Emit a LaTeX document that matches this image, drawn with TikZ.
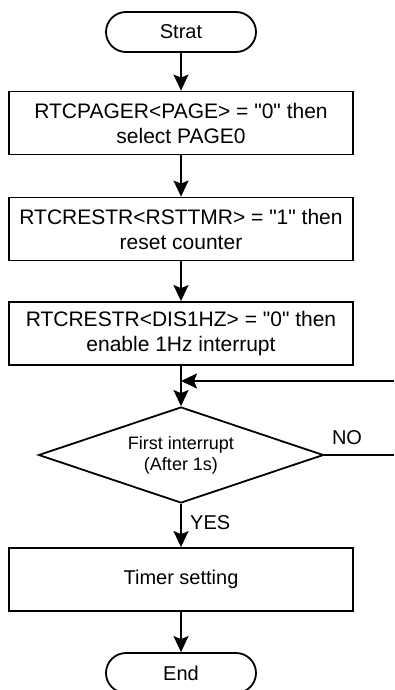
\documentclass[tikz,border=0pt]{standalone}
\usepackage{fontspec}
\setmainfont{Liberation Sans}
\newfontfamily\lsans{Liberation Sans}
\usetikzlibrary{shapes.geometric,arrows.meta}
\begin{document}
\begin{tikzpicture}[x=1pt,y=1pt,
  every node/.style={font=\lsans\fontsize{20}{24}\selectfont},
  term/.style={draw,line width=1.8pt,rounded corners=20pt,minimum width=150pt,minimum height=40pt,inner sep=0pt},
  procbox/.style={draw,line width=1.8pt,minimum width=344pt,minimum height=63pt,inner sep=0pt,align=center,font=\lsans\fontsize{21}{25}\selectfont},
  decis/.style={draw,line width=1.8pt,diamond,aspect=2.97,minimum width=285pt,minimum height=96pt,inner sep=0pt,align=center,font=\lsans\fontsize{18}{21}\selectfont},
  flow/.style={line width=1.8pt,-{Stealth[length=16pt,width=15pt,inset=3pt]}},
  plain/.style={line width=1.8pt},
  lbl/.style={inner sep=0pt}]
\useasboundingbox (0,0) rectangle (394,-690);
\node[term] (start) at (181,-32) {Strat};
\node[procbox] (b1) at (181,-123) {RTCPAGER<PAGE> = "0" then\\select PAGE0};
\node[procbox] (b2) at (181,-229) {RTCRESTR<RSTTMR> = "1" then\\reset counter};
\node[procbox] (b3) at (181,-333.5) {RTCRESTR<DIS1HZ> = "0" then\\enable 1Hz interrupt};
\coordinate (merge) at (181,-381);
\node[decis] (d) at (181,-455) {First interrupt\\(After 1s)};
\node[procbox,font=\lsans\fontsize{20}{24}\selectfont] (timer) at (181,-579.5) {Timer setting};
\node[term] (end) at (181,-673) {End};
\coordinate (noend) at (394,-455);
\coordinate (loopstart) at (394,-381);
\node[lbl] (no) at (347,-438) {NO};
\node[lbl,anchor=west] (yes) at (190,-523) {YES};
\draw[flow] (start) -- (b1);
\draw[flow] (b1) -- (b2);
\draw[flow] (b2) -- (b3);
\draw[plain] (b3) -- (merge);
\draw[flow] (merge) -- (d);
\draw[flow] (loopstart) -- (merge);
\draw[plain] (d.east) -- (noend);
\draw[flow] (d) -- (timer);
\draw[flow] (timer) -- (end);
\end{tikzpicture}
\end{document}
